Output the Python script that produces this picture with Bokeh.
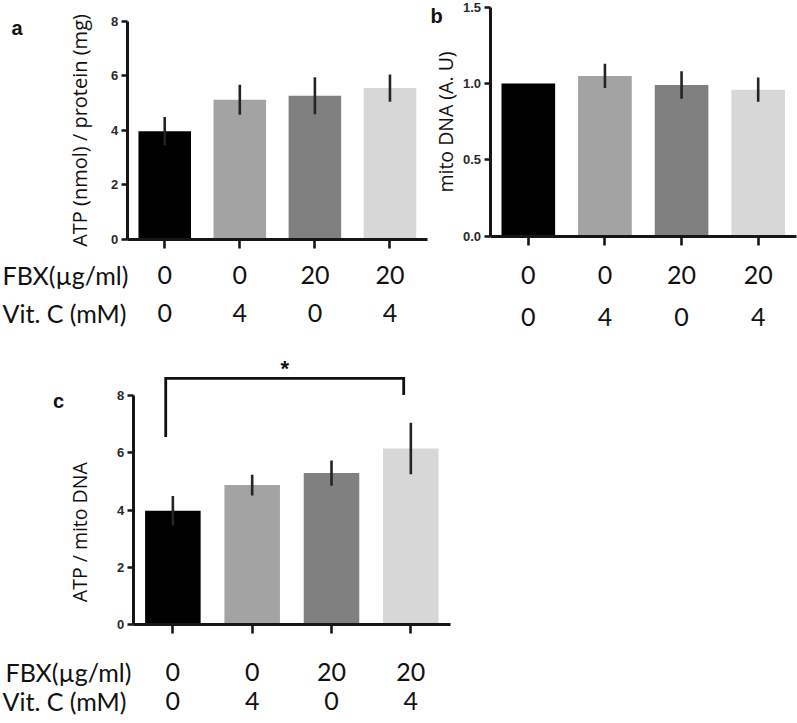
import math
from bokeh.plotting import figure
from bokeh.models import (Range1d, LinearAxis, FixedTicker,
                          NumeralTickFormatter, ColumnDataSource)
from bokeh.layouts import column, row
from bokeh.embed import file_html
from bokeh.resources import INLINE
from bokeh.core.properties import value

# ---------------- data ----------------
groups = ["FBX 0 / Vit.C 0", "FBX 0 / Vit.C 4", "FBX 20 / Vit.C 0", "FBX 20 / Vit.C 4"]
fbx_labels = ["0", "0", "20", "20"]
vitc_labels = ["0", "4", "0", "4"]
row_titles = ["FBX(µg/ml)", "Vit. C (mM)"]
bar_colors = ["#000000", "#a3a3a3", "#808080", "#d7d7d7"]

atp_protein = [3.97, 5.12, 5.27, 5.55]
atp_protein_err = [0.52, 0.55, 0.68, 0.50]

mito_dna = [1.00, 1.05, 0.99, 0.96]
mito_dna_err = [0.0, 0.08, 0.09, 0.08]

atp_mito = [3.97, 4.87, 5.29, 6.15]
atp_mito_err = [0.52, 0.36, 0.44, 0.90]

ticks_atp = [0, 2, 4, 6, 8]
ticks_dna = [0.0, 0.5, 1.0, 1.5]

# significance bracket (panel c): between first and last group
sig_pair = (0, 3)
sig_text = "*"
bracket_top = 8.6
bracket_left_end = 6.55
bracket_right_end = 8.02
bracket_shift = -0.09
star_y = 8.94

positions = list(range(1, len(groups) + 1))
x_lo, x_hi = 0.5, len(groups) + 0.5

AX = "#161616"
TXT = "#111111"
ROW_FONT = "Lato"
ROW_SIZE = "25px"
YLAB_FONT = "Open Sans"
YLAB_SIZE = "19.5px"


def make_panel(box, xpix, ypix, y_top, vals, errs, yticks, fmt, s1, s2,
               ylabel=None, ylabel_standoff=0, ylabel_size=YLAB_SIZE):
    """box: (left, top, right, bottom) page pixels of the whole figure.
    xpix: page x of x_lo and x_hi; ypix: page y of 0 and y_top."""
    left, top, right, bottom = box
    sx = (xpix[1] - xpix[0]) / (x_hi - x_lo)
    sy = (ypix[0] - ypix[1]) / y_top
    xr = Range1d(x_lo + (left - xpix[0]) / sx, x_lo + (right - xpix[0]) / sx)
    yr = Range1d((ypix[0] - bottom) / sy, (ypix[0] - top) / sy)

    def fx(px):
        return x_lo + (px - xpix[0]) / sx

    def fy(py):
        return (ypix[0] - py) / sy

    p = figure(x_range=xr, y_range=yr,
               frame_width=int(right - left), frame_height=int(bottom - top),
               min_border=0, output_backend="svg", toolbar_location=None)
    p.outline_line_color = None
    p.xgrid.visible = False
    p.ygrid.visible = False
    p.background_fill_color = "white"
    p.border_fill_color = "white"

    lo = [v - e for v, e in zip(vals, errs)]
    hi = [v + e for v, e in zip(vals, errs)]
    src = ColumnDataSource(dict(x=positions, group=groups, top=vals, lo=lo, hi=hi,
                                color=bar_colors))
    p.vbar(x="x", top="top", width=0.7, bottom=0, fill_color="color",
           line_color=None, source=src)
    p.segment(x0="x", y0="lo", x1="x", y1="hi", line_width=2.6,
              line_color="#242424", source=src)

    # y axis, drawn at the left end of the bar axis
    ya = p.yaxis[0]
    ya.fixed_location = x_lo
    ya.ticker = FixedTicker(ticks=yticks)
    ya.bounds = (0, yticks[-1])
    if fmt:
        ya.formatter = NumeralTickFormatter(format=fmt)
    ya.axis_line_width = 3
    ya.axis_line_color = AX
    ya.major_tick_line_width = 2.5
    ya.major_tick_line_color = AX
    ya.major_tick_out = 6
    ya.major_tick_in = 0
    ya.minor_tick_out = 0
    ya.minor_tick_line_color = None
    ya.major_label_standoff = 3
    ya.major_label_text_font = "Liberation Sans"
    ya.major_label_text_font_style = "bold"
    ya.major_label_text_font_size = "13px"
    ya.major_label_text_color = "#2a2a2a"
    if ylabel:
        ya.axis_label = ylabel
        ya.axis_label_text_font = YLAB_FONT
        ya.axis_label_text_font_style = "normal"
        ya.axis_label_text_font_size = ylabel_size
        ya.axis_label_text_color = TXT
        ya.axis_label_standoff = ylabel_standoff

    # x axis (first row of labels: FBX)
    xa = p.xaxis[0]
    xa.fixed_location = 0
    xa.ticker = FixedTicker(ticks=positions)
    xa.major_label_overrides = {k: v for k, v in zip(positions, fbx_labels)}
    xa.bounds = (x_lo, x_hi)
    xa.axis_line_width = 3
    xa.axis_line_color = AX
    xa.major_tick_line_width = 2.6
    xa.major_tick_line_color = AX
    xa.minor_tick_line_color = None
    xa.minor_tick_out = 0
    xa.major_tick_out = 9
    xa.major_tick_in = 0
    xa.major_label_standoff = s1
    xa.major_label_text_font = ROW_FONT
    xa.major_label_text_font_size = ROW_SIZE
    xa.major_label_text_color = TXT

    # second row of labels (Vit. C)
    xb = LinearAxis(fixed_location=0, ticker=FixedTicker(ticks=positions),
                    major_label_overrides={k: v for k, v in zip(positions, vitc_labels)},
                    axis_line_color=None, major_tick_line_color=None,
                    minor_tick_line_color=None,
                    major_tick_out=0, major_tick_in=0, minor_tick_out=0,
                    major_label_standoff=s2,
                    major_label_text_font=ROW_FONT,
                    major_label_text_font_size=ROW_SIZE,
                    major_label_text_color=TXT)
    p.add_layout(xb, "below")
    return p, fx, fy


def add_text(p, text, x, y, size, font="Lato", bold=False, angle=0.0,
             align="left", baseline="alphabetic"):
    p.text(x=[x], y=[y], text=[text], text_font=value(font), text_font_size=size,
           text_font_style="bold" if bold else "normal", text_color=TXT,
           angle=angle, text_align=align, text_baseline=baseline)


# ---------------- panel a ----------------
pa, fx, fy = make_panel((0, 0, 428, 330), (126.7, 427), (239, 20.7), 8,
                        atp_protein, atp_protein_err, ticks_atp, None, 17, 64,
                        ylabel="ATP (nmol) / protein (mg)", ylabel_standoff=15,
                        ylabel_size="20px")
add_text(pa, "a", fx(11), fy(27), "20px", font="Liberation Sans", bold=True)
add_text(pa, row_titles[0], fx(2), fy(274.5), ROW_SIZE)
add_text(pa, row_titles[1], fx(2), fy(312.5), ROW_SIZE)

# ---------------- panel b ----------------
pb, fx, fy = make_panel((428, 0, 797, 330), (489.5, 796), (235.7, 6.7), 1.5,
                        mito_dna, mito_dna_err, ticks_dna, "0.0", 21, 72,
                        ylabel="mito DNA (A. U)", ylabel_standoff=1)
add_text(pb, "b", fx(430), fy(15), "20px", font="Liberation Sans", bold=True)

# ---------------- panel c ----------------
pc, fx, fy = make_panel((0, 330, 452, 723), (132.7, 450), (624, 395), 8,
                        atp_mito, atp_mito_err, ticks_atp, None, 29, 67)
add_text(pc, "c", fx(52.5), fy(400.5), "20px", font="Liberation Sans", bold=True)
add_text(pc, "ATP / mito DNA", fx(78.7), fy(531.7), YLAB_SIZE, font=YLAB_FONT,
         angle=math.pi / 2, align="center", baseline="middle")
add_text(pc, row_titles[0], fx(5), fy(671.5), ROW_SIZE)
add_text(pc, row_titles[1], fx(2), fy(700.5), ROW_SIZE)

i0, i1 = sig_pair
bx0 = positions[i0] + bracket_shift
bx1 = positions[i1] + bracket_shift
pc.line(x=[bx0, bx0, bx1, bx1],
        y=[bracket_left_end, bracket_top, bracket_top, bracket_right_end],
        line_width=2.8, line_color="#111111", line_join="miter")
pc.text(x=[(bx0 + bx1) / 2], y=[star_y], text=[sig_text],
        text_font=value("Liberation Sans"), text_font_style="bold",
        text_font_size="22px", text_align="center", text_baseline="middle",
        text_color="#111111")

layout = column(row(pa, pb), pc)

open("out.html", "w").write(file_html(layout, INLINE))
